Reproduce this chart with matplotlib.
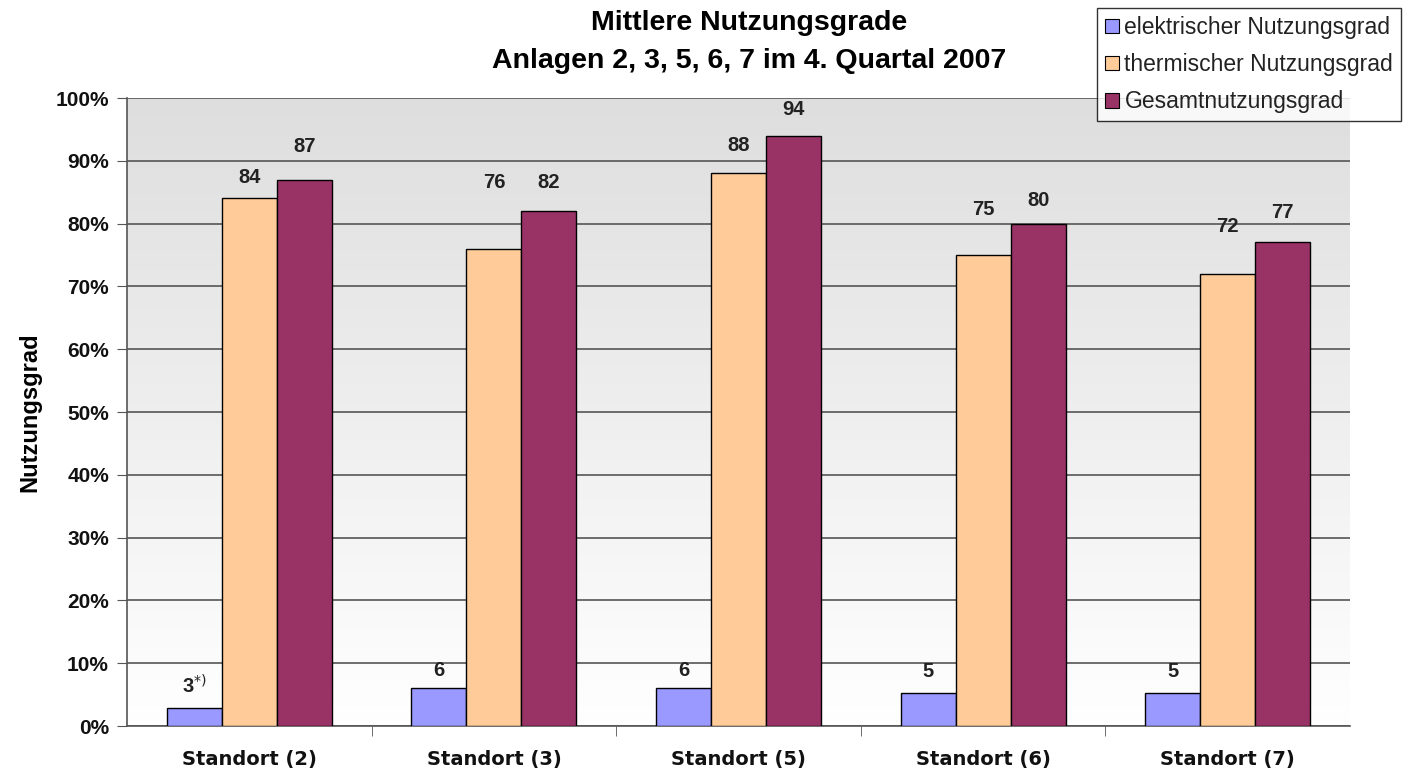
import numpy as np
import matplotlib
matplotlib.use("Agg")
import matplotlib.pyplot as plt
from matplotlib.patches import Patch
from matplotlib.colors import LinearSegmentedColormap

categories = ["Standort (2)", "Standort (3)", "Standort (5)", "Standort (6)", "Standort (7)"]
elektrisch = [2.8, 6, 6, 5.2, 5.2]
thermisch = [84, 76, 88, 75, 72]
gesamt = [87, 82, 94, 80, 77]
labels_el = ["3$^{*)}$", "6", "6", "5", "5"]
labels_th = ["84", "76", "88", "75", "72"]
labels_ge = ["87", "82", "94", "80", "77"]
series_names = ["elektrischer Nutzungsgrad", "thermischer Nutzungsgrad", "Gesamtnutzungsgrad"]
colors = ["#9999FF", "#FFCC99", "#993366"]

# layout: vertical placement (in axis units) of the hand-placed data labels
label_pos_el = [6.4, 8.9, 8.9, 8.6, 8.6]
label_pos_th = [87.4, 86.5, 92.4, 82.2, 79.6]
label_pos_ge = [92.2, 86.5, 98.1, 83.6, 81.8]

plt.rcParams['font.family'] = ['Liberation Sans', 'DejaVu Sans']

fig = plt.figure(figsize=(14.18, 7.76), dpi=100)
ax = fig.add_axes([127/1418, 1-726/776, (1350-127)/1418, (726-98)/776])

grad = np.linspace(0, 1, 256).reshape(-1, 1)
cmap = LinearSegmentedColormap.from_list("bg", ["#FFFFFF", "#DEDEDE"])
ax.imshow(grad, extent=[-0.5, 4.5, 0, 100], aspect='auto', cmap=cmap,
          origin='lower', zorder=0)

x = np.arange(len(categories))
w = 0.225
for i, (vals, labs, lpos) in enumerate(zip([elektrisch, thermisch, gesamt],
                                           [labels_el, labels_th, labels_ge],
                                           [label_pos_el, label_pos_th, label_pos_ge])):
    pos = x + (i - 1) * w
    ax.bar(pos, vals, width=w, color=colors[i], edgecolor="black", linewidth=1.0, zorder=3)
    for p, ly, l in zip(pos, lpos, labs):
        ax.text(p, ly, l, ha='center', va='center', fontsize=14.5, fontweight='bold',
                color='#222222', zorder=4)

ax.set_xlim(-0.5, 4.5)
ax.set_ylim(0, 100)
ax.set_yticks(np.arange(0, 101, 10))
ax.set_yticklabels([f"{t}%" for t in range(0, 101, 10)], fontsize=15, fontweight='bold', color='#111111')
ax.yaxis.grid(True, color='#555555', linewidth=1.2, zorder=1)
ax.set_axisbelow(True)
ax.set_xticks(x)
ax.set_xticklabels(categories, fontsize=14, fontweight='bold', family='DejaVu Sans', color='#111111')
ax.tick_params(axis='x', length=0, pad=17)
ax.set_xticks(np.arange(0.5, 4.5, 1), minor=True)
ax.tick_params(axis='x', which='minor', length=7, direction='out', color='#555555')
ax.tick_params(axis='y', length=7, direction='out', color='#555555', pad=6)
for s in ['top', 'right']:
    ax.spines[s].set_visible(False)
ax.spines['left'].set_color('#555555')
ax.spines['bottom'].set_color('#555555')
ax.spines['left'].set_linewidth(1.2)
ax.spines['bottom'].set_linewidth(1.2)
ax.set_ylabel("Nutzungsgrad", fontsize=17, fontweight='bold', labelpad=10)

fig.text(749/1418, 1-23/776, "Mittlere Nutzungsgrade", ha='center', va='center', fontsize=20.5, fontweight='bold')
fig.text(749/1418, 1-61/776, "Anlagen 2, 3, 5, 6, 7 im 4. Quartal 2007", ha='center', va='center', fontsize=20.5, fontweight='bold')

handles = [Patch(facecolor=c, edgecolor='black', linewidth=0.8) for c in colors]
leg = fig.legend(handles, series_names, loc='upper left', bbox_to_anchor=(1097/1418, 1-8/776),
                 fontsize=16.5, frameon=True, fancybox=False, edgecolor='black',
                 handlelength=0.6, handleheight=0.6, handletextpad=0.25, labelspacing=0.62,
                 borderpad=0.35, borderaxespad=0)
leg.get_frame().set_linewidth(1.0)
for t in leg.get_texts():
    t.set_color('#222222')

fig.savefig("out.png", dpi=100)
